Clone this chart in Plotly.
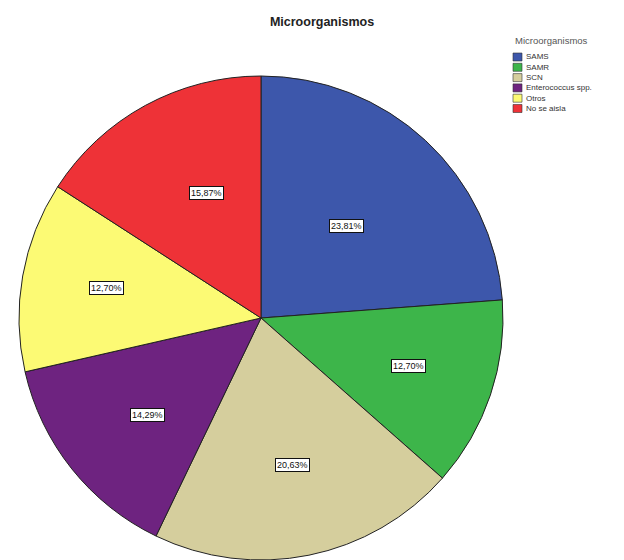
import math
import plotly.graph_objects as go

# ---- data ----
categories = ["SAMS", "SAMR", "SCN", "Enterococcus spp.", "Otros", "No se aisla"]
counts = [15, 8, 13, 9, 8, 10]
colors = ["#3D57AB", "#3DB54A", "#D5CE9D", "#6E2380", "#FCFA74", "#EE3237"]
title_text = "Microorganismos"
legend_title = "Microorganismos"

# ---- layout constants ----
W, H = 624, 560
CX, CY = 261, 318          # pie centre in pixels (from top-left)
R = 242                    # pie radius in pixels
label_radius = [0.52, 0.72, 0.65, 0.69, 0.72, 0.62]  # per-slice label placement (fraction of R)

fig = go.Figure(go.Pie(
    labels=categories,
    values=counts,
    sort=False,
    direction="clockwise",
    rotation=0,
    marker=dict(colors=colors, line=dict(color="#222222", width=1)),
    textinfo="none",
    hoverinfo="label+percent",
    showlegend=False,
    domain=dict(x=[(CX - R) / W, (CX + R) / W],
                y=[max(0, (H - CY - R) / H), (H - CY + R) / H]),
))

annotations = []
total = sum(counts)
cum = 0
for i, v in enumerate(counts):
    mid = (cum + v / 2) / total * 2 * math.pi
    cum += v
    r = label_radius[i] * R
    px = CX + r * math.sin(mid)
    py = CY - r * math.cos(mid)
    pct = f"{v / total * 100:.2f}%".replace(".", ",")
    annotations.append(dict(
        x=px / W, y=1 - py / H, xref="paper", yref="paper",
        text=pct, showarrow=False,
        font=dict(family="Arial, Liberation Sans", size=9, color="#111111"),
        bgcolor="white", bordercolor="#111111", borderwidth=1, borderpad=1,
    ))

# custom compact legend
lx, ly0, step = 513, 57, 10.3
annotations.append(dict(
    x=lx / W, y=1 - 41 / H, xref="paper", yref="paper", xanchor="left",
    yanchor="middle", text=legend_title, showarrow=False,
    font=dict(family="Arial, Liberation Sans", size=9.5, color="#555555"),
))
shapes = []
for i, (cat, col) in enumerate(zip(categories, colors)):
    yc = ly0 + i * step
    shapes.append(dict(
        type="rect", xref="paper", yref="paper",
        x0=lx / W, x1=(lx + 9) / W,
        y0=1 - (yc + 4) / H, y1=1 - (yc - 4) / H,
        fillcolor=col, line=dict(color="#333333", width=0.6),
    ))
    annotations.append(dict(
        x=(lx + 11) / W, y=1 - yc / H, xref="paper", yref="paper",
        xanchor="left", yanchor="middle", text=cat, showarrow=False,
        font=dict(family="Arial, Liberation Sans", size=8, color="#333333"),
    ))

fig.update_layout(
    width=W, height=H,
    margin=dict(l=0, r=0, t=0, b=0),
    paper_bgcolor="white", plot_bgcolor="white",
    title=dict(text=f"<b>{title_text}</b>", x=322 / W, xanchor="center",
               y=1 - 22 / H, yanchor="middle",
               font=dict(family="Arial, Liberation Sans", size=12.5, color="#222222")),
    annotations=annotations,
    shapes=shapes,
)

fig.write_html("out.html")
